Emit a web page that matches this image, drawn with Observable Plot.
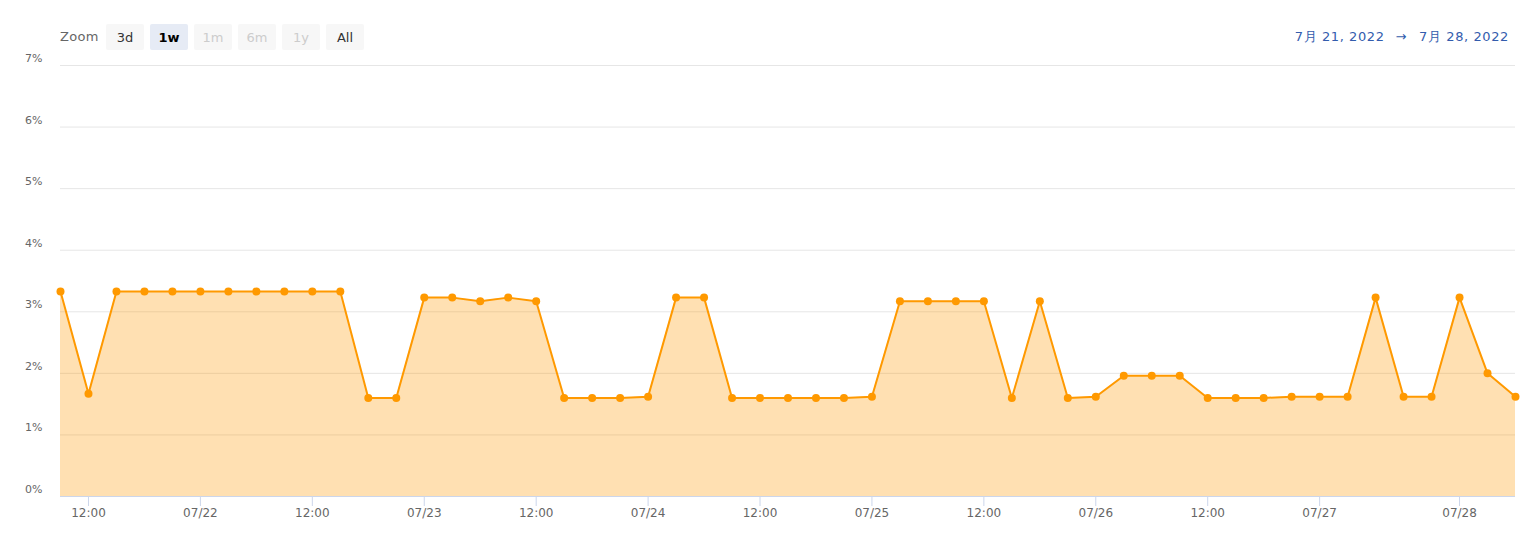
<!DOCTYPE html>
<html>
<head>
<meta charset="utf-8">
<script src="https://cdn.jsdelivr.net/npm/d3@7"></script>
<script src="https://cdn.jsdelivr.net/npm/@observablehq/plot@0.6"></script>
<style>
  html, body { margin: 0; padding: 0; background: #fff; }
  body { width: 1538px; height: 533px; overflow: hidden; font-family: "DejaVu Sans", sans-serif; }
  #header { position: relative; height: 40px; z-index: 2; }
  .zoom-label { position: absolute; left: 60px; top: 29px; font-size: 13px; color: #666; letter-spacing: 0.3px; }
  .btn { position: absolute; top: 24px; width: 38px; height: 26px; line-height: 27px; text-align: center;
         background: #f7f7f7; color: #333; font-size: 13px; border-radius: 2px; }
  .btn.sel { background: #e6ebf5; color: #000; font-weight: bold; }
  .btn.dis { color: #cccccc; }
  .range { position: absolute; right: 29px; top: 28px; font-size: 13px; color: #335cad; white-space: pre; letter-spacing: 0.6px; }
  .range .arrow { margin: 0 12px 0 11px; }
  #chart { position: relative; z-index: 1; }
  #chart svg { display: block; }
</style>
</head>
<body>
<div id="header"></div>
<div id="chart"></div>
<script>
// ---- data ----
const times = [
  "07-21 09:00","07-21 12:00","07-21 15:00","07-21 18:00","07-21 21:00",
  "07-22 00:00","07-22 03:00","07-22 06:00","07-22 09:00","07-22 12:00","07-22 15:00","07-22 18:00","07-22 21:00",
  "07-23 00:00","07-23 03:00","07-23 06:00","07-23 09:00","07-23 12:00","07-23 15:00","07-23 18:00","07-23 21:00",
  "07-24 00:00","07-24 03:00","07-24 06:00","07-24 09:00","07-24 12:00","07-24 15:00","07-24 18:00","07-24 21:00",
  "07-25 00:00","07-25 03:00","07-25 06:00","07-25 09:00","07-25 12:00","07-25 15:00","07-25 18:00","07-25 21:00",
  "07-26 00:00","07-26 03:00","07-26 06:00","07-26 09:00","07-26 12:00","07-26 15:00","07-26 18:00","07-26 21:00",
  "07-27 00:00","07-27 03:00","07-27 06:00","07-27 15:00","07-27 21:00",
  "07-28 00:00","07-28 03:00","07-28 06:00"
];
const values = [
  3.33, 1.67, 3.33, 3.33, 3.33,
  3.33, 3.33, 3.33, 3.33, 3.33, 3.33, 1.60, 1.60,
  3.23, 3.23, 3.17, 3.23, 3.17, 1.60, 1.60, 1.60,
  1.62, 3.23, 3.23, 1.60, 1.60, 1.60, 1.60, 1.60,
  1.62, 3.17, 3.17, 3.17, 3.17, 1.60, 3.17, 1.60,
  1.62, 1.96, 1.96, 1.96, 1.60, 1.60, 1.60, 1.62,
  1.62, 1.62, 3.23, 1.62, 1.62,
  3.23, 2.00, 1.62
];
const tickTimes = ["07-21 12:00","07-22 00:00","07-22 12:00","07-23 00:00","07-23 12:00","07-24 00:00","07-24 12:00",
  "07-25 00:00","07-25 12:00","07-26 00:00","07-26 12:00","07-27 00:00","07-28 00:00"];
const tickLabels = ["12:00","07/22","12:00","07/23","12:00","07/24","12:00","07/25","12:00","07/26","12:00","07/27","07/28"];
const yTicks = [0, 1, 2, 3, 4, 5, 6, 7];
const zoomButtons = ["3d", "1w", "1m", "6m", "1y", "All"];
const zoomState = ["", "sel", "dis", "dis", "dis", ""];
const rangeFrom = "7月 21, 2022";
const rangeTo = "7月 28, 2022";

// ---- header ----
const header = document.getElementById("header");
const zl = document.createElement("div");
zl.className = "zoom-label"; zl.textContent = "Zoom";
header.appendChild(zl);
zoomButtons.forEach((b, i) => {
  const el = document.createElement("div");
  el.className = "btn " + zoomState[i];
  el.style.left = (106 + i * 44) + "px";
  el.textContent = b;
  header.appendChild(el);
});
const rg = document.createElement("div");
rg.className = "range";
const s1 = document.createElement("span"); s1.textContent = rangeFrom;
const s2 = document.createElement("span"); s2.className = "arrow"; s2.textContent = "→";
const s3 = document.createElement("span"); s3.textContent = rangeTo;
rg.append(s1, s2, s3);
header.appendChild(rg);

// ---- chart ----
const data = times.map((t, i) => ({i, t, v: values[i]}));
const tickIdx = tickTimes.map(t => times.indexOf(t));
const labelOf = new Map(tickIdx.map((k, j) => [k, tickLabels[j]]));

const chart = Plot.plot({
  width: 1538,
  height: 493,
  marginTop: 25,
  marginLeft: 60,
  marginRight: 23,
  marginBottom: 37,
  style: {fontFamily: "DejaVu Sans, sans-serif", background: "transparent"},
  x: {type: "linear", domain: [0, times.length - 1]},
  y: {domain: [0, 7]},
  marks: [
    Plot.gridY(yTicks.slice(1), {stroke: "#e6e6e6", strokeOpacity: 1}),
    Plot.areaY(data, {x: "i", y: "v", fill: "#ff9900", fillOpacity: 0.3}),
    Plot.ruleY([0], {stroke: "#ccd6eb"}),
    Plot.line(data, {x: "i", y: "v", stroke: "#ff9900", strokeWidth: 2}),
    Plot.dot(data, {x: "i", y: "v", r: 4, fill: "#ff9900", stroke: "none"}),
    Plot.axisX({ticks: tickIdx, tickFormat: d => labelOf.get(d), tickSize: 10, tickPadding: 2,
      stroke: "#ccd6eb", fill: "#666", fontSize: 12, label: null}),
    Plot.axisY({ticks: yTicks, tickFormat: d => d + "%", tickSize: 0, tickPadding: 18, dy: -7,
      fill: "#666", fontSize: 11, label: null})
  ]
});
document.getElementById("chart").appendChild(chart);
</script>
</body>
</html>
